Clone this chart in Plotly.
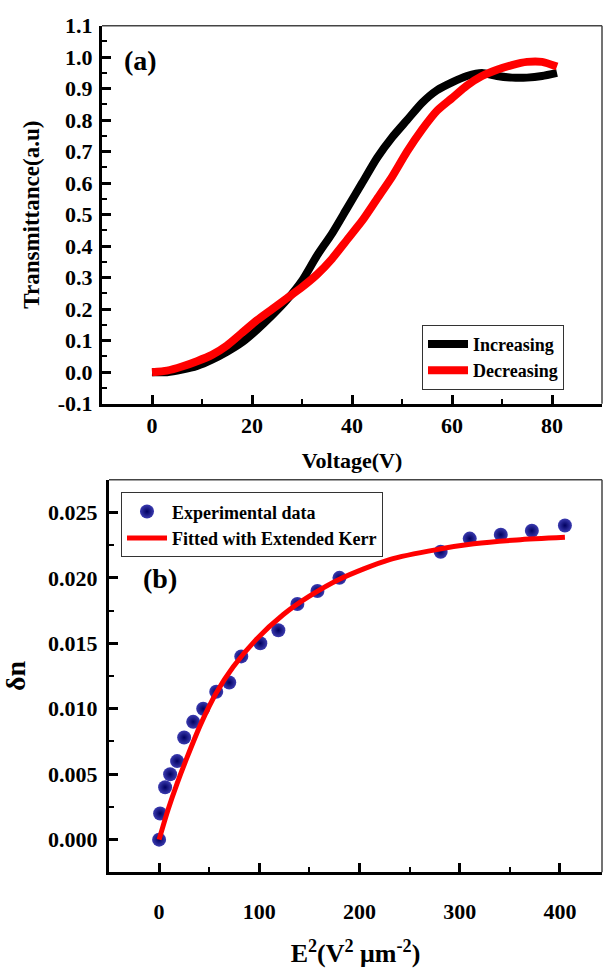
import plotly.graph_objects as go

# ---------------- data: panel (a) ----------------
voltage_inc = [0, 3, 6, 9, 12, 15, 18, 21, 24, 27, 30, 33, 36, 39, 42, 45, 48, 51, 54, 57, 60, 63, 66, 69, 72, 75, 78, 81]
trans_inc = [0.0, 0.0, 0.008, 0.02, 0.04, 0.065, 0.095, 0.135, 0.18, 0.23, 0.29, 0.37, 0.44, 0.52, 0.60, 0.68, 0.745, 0.80,
             0.855, 0.895, 0.92, 0.94, 0.95, 0.94, 0.935, 0.935, 0.94, 0.95]
voltage_dec = [0, 3, 6, 9, 12, 15, 18, 21, 24, 27, 30, 33, 36, 39, 42, 45, 48, 51, 54, 57, 60, 63, 66, 69, 72, 75, 78, 81]
trans_dec = [0.0, 0.005, 0.018, 0.035, 0.055, 0.085, 0.125, 0.165, 0.20, 0.235, 0.27, 0.31, 0.36, 0.42, 0.48, 0.55, 0.62,
             0.70, 0.77, 0.83, 0.87, 0.91, 0.94, 0.96, 0.975, 0.985, 0.985, 0.97]

# ---------------- data: panel (b) ----------------
e2_exp = [0, 1, 6, 11, 18, 25, 34, 44, 57, 70, 82, 101, 119, 138, 158, 180, 281, 310, 341, 372, 405]
dn_exp = [0.000, 0.002, 0.004, 0.005, 0.006, 0.0078, 0.009, 0.010, 0.0113, 0.012, 0.014, 0.015, 0.016, 0.018, 0.019,
          0.020, 0.022, 0.023, 0.0233, 0.0236, 0.024]
e2_fit = [0, 9, 18, 28, 42, 57, 74, 97, 124, 150, 180, 230, 280, 314, 357, 405]
dn_fit = [0.0, 0.0023, 0.0043, 0.0063, 0.0089, 0.0112, 0.0132, 0.0153, 0.0172, 0.0186, 0.0199, 0.0214, 0.0222, 0.0226,
          0.0229, 0.0231]

# ---------------- tick labels ----------------
a_xticks = [0, 20, 40, 60, 80]
a_yticks = [-0.1, 0.0, 0.1, 0.2, 0.3, 0.4, 0.5, 0.6, 0.7, 0.8, 0.9, 1.0, 1.1]
a_yticktext = ["-0.1", "0.0", "0.1", "0.2", "0.3", "0.4", "0.5", "0.6", "0.7", "0.8", "0.9", "1.0", "1.1"]
b_xticks = [0, 100, 200, 300, 400]
b_yticks = [0.000, 0.005, 0.010, 0.015, 0.020, 0.025]
b_yticktext = ["0.000", "0.005", "0.010", "0.015", "0.020", "0.025"]

FONT = "Liberation Serif"
W, H = 605, 975


def tf(size):
    return dict(family=FONT, size=size, color="black", weight="bold")


fig = go.Figure()
fig.add_trace(go.Scatter(x=voltage_inc, y=trans_inc, mode="lines", name="Increasing",
                         line=dict(color="black", width=8, shape="spline", smoothing=0.6),
                         xaxis="x", yaxis="y", legend="legend"))
fig.add_trace(go.Scatter(x=voltage_dec, y=trans_dec, mode="lines", name="Decreasing",
                         line=dict(color="#ff0000", width=8, shape="spline", smoothing=0.6),
                         xaxis="x", yaxis="y", legend="legend"))
fig.add_trace(go.Scatter(x=e2_exp, y=dn_exp, mode="markers", name="Experimental data",
                         marker=dict(size=14, color="#3b3bb0", gradient=dict(type="radial", color="#000060"),
                                     line=dict(width=0)),
                         xaxis="x2", yaxis="y2", legend="legend2"))
fig.add_trace(go.Scatter(x=e2_fit, y=dn_fit, mode="lines", name="Fitted with Extended Kerr",
                         line=dict(color="#ff0000", width=5, shape="spline", smoothing=0.8),
                         xaxis="x2", yaxis="y2", legend="legend2"))

axis_common = dict(showline=True, linewidth=3, linecolor="black", showgrid=False, zeroline=False,
                   ticks="inside", ticklen=9, tickwidth=2.5, tickcolor="black", tickfont=tf(22))

ax_dom = [102 / W, 602 / W]
ay_dom = [1 - 402 / H, 1 - 14 / H]
bx_dom = [109 / W, 602 / W]
by_dom = [1 - 883 / H, 1 - 480 / H]

fig.update_layout(
    width=W, height=H, margin=dict(l=0, r=0, t=0, b=0),
    paper_bgcolor="white", plot_bgcolor="white",
    xaxis=dict(axis_common, domain=ax_dom, anchor="y", range=[-10, 90], tickmode="array", tickvals=a_xticks,
               minor=dict(ticks="inside", ticklen=5, tickwidth=2, tickcolor="black", tick0=0, dtick=10),
               title=dict(text="Voltage(V)", font=tf(22), standoff=16)),
    yaxis=dict(axis_common, domain=ay_dom, anchor="x", range=[-0.1, 1.1], tickmode="array",
               tickvals=a_yticks, ticktext=a_yticktext, ticklabelstandoff=2,
               minor=dict(ticks="inside", ticklen=5, tickwidth=2, tickcolor="black", tick0=0, dtick=0.05),
               title=dict(text="Transmittance(a.u)", font=tf(23), standoff=12)),
    xaxis2=dict(axis_common, domain=bx_dom, anchor="y2", range=[-50, 442], tickmode="array", tickvals=b_xticks,
                ticklabelstandoff=17,
                minor=dict(ticks="inside", ticklen=5, tickwidth=2, tickcolor="black", tick0=0, dtick=50),
                title=dict(text="E<sup>2</sup>(V<sup>2</sup> \u03bcm<sup>-2</sup>)", font=tf(26), standoff=22)),
    yaxis2=dict(axis_common, domain=by_dom, anchor="x2", range=[-0.0025, 0.0275], tickmode="array",
                tickvals=b_yticks, ticktext=b_yticktext, ticklabelstandoff=4,
                minor=dict(ticks="inside", ticklen=5, tickwidth=2, tickcolor="black", tick0=0, dtick=0.0025),
                title=dict(text="\u03b4n", font=tf(28), standoff=16)),
    legend=dict(x=422 / W, y=1 - 321 / H, xanchor="left", yanchor="top", bgcolor="white",
                bordercolor="#333333", borderwidth=1, font=tf(18), tracegroupgap=0, itemwidth=40),
    legend2=dict(x=121 / W, y=1 - 493 / H, xanchor="left", yanchor="top", bgcolor="white",
                 bordercolor="#333333", borderwidth=1, font=tf(18), tracegroupgap=0, itemwidth=40),
    showlegend=True,
    shapes=[
        dict(type="line", xref="x domain", yref="y domain", x0=0, x1=1, y0=1, y1=1,
             line=dict(color="#444444", width=1.5)),
        dict(type="line", xref="x domain", yref="y domain", x0=1, x1=1, y0=0, y1=1,
             line=dict(color="#444444", width=1.5)),
        dict(type="line", xref="x2 domain", yref="y2 domain", x0=0, x1=1, y0=1, y1=1,
             line=dict(color="#444444", width=1.5)),
        dict(type="line", xref="x2 domain", yref="y2 domain", x0=1, x1=1, y0=0, y1=1,
             line=dict(color="#444444", width=1.5)),
    ],
    annotations=[
        dict(text="(a)", xref="paper", yref="paper", x=140 / W, y=1 - 50 / H, showarrow=False,
             font=tf(28), xanchor="center", yanchor="middle"),
        dict(text="(b)", xref="paper", yref="paper", x=160 / W, y=1 - 581 / H, showarrow=False,
             font=tf(28), xanchor="center", yanchor="middle"),
    ],
)

fig.write_html("out.html")
